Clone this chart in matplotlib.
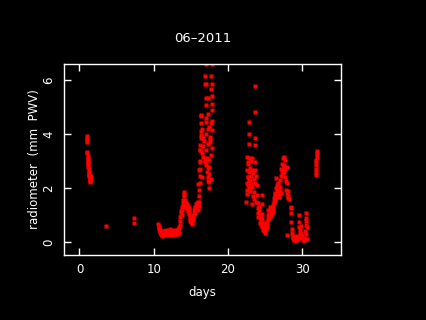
import numpy as np
import matplotlib
matplotlib.use("Agg")
import matplotlib.pyplot as plt

# radiometer PWV readings, June 2011
day1 = [1.00, 1.00, 1.01, 1.02, 1.05, 1.06, 1.08, 1.10, 1.12, 1.14, 1.16, 1.18,
        1.20, 1.22, 1.25, 1.28, 1.30, 1.33, 1.36, 1.40, 1.42, 1.45, 1.48, 1.50]
pwv1 = [3.93, 3.85, 3.78, 3.70, 3.35, 3.30, 3.20, 3.12, 3.05, 2.98, 2.92, 2.85,
        2.80, 2.72, 2.65, 2.58, 2.50, 2.45, 2.40, 2.35, 2.28, 2.22, 2.30, 2.45]

day_iso = [3.55, 7.30, 7.30]
pwv_iso = [0.59, 0.89, 0.70]

day2 = [10.60, 10.65, 10.70, 10.75, 10.80, 10.85, 10.90, 10.95, 11.00, 11.05,
        11.10, 11.15, 11.20, 11.30, 11.35, 11.40, 11.50, 11.55, 11.60, 11.70,
        11.75, 11.80, 11.90, 12.00, 12.05, 12.10, 12.20, 12.25, 12.30, 12.40,
        12.50, 12.55, 12.60, 12.70, 12.75, 12.80, 12.90, 13.00, 13.05, 13.10,
        13.20, 13.25, 13.30, 13.35, 13.40]
pwv2 = [0.68, 0.62, 0.55, 0.50, 0.45, 0.40, 0.38, 0.33, 0.30, 0.28,
        0.35, 0.25, 0.30, 0.40, 0.32, 0.28, 0.42, 0.35, 0.30, 0.45,
        0.38, 0.30, 0.42, 0.33, 0.28, 0.40, 0.48, 0.35, 0.30, 0.42,
        0.28, 0.38, 0.45, 0.32, 0.27, 0.40, 0.35, 0.30, 0.45, 0.38,
        0.32, 0.50, 0.42, 0.35, 0.55]

day3 = [13.50, 13.55, 13.60, 13.65, 13.70, 13.75, 13.80, 13.85, 13.90, 13.95,
        14.00, 14.05, 14.10, 14.12, 14.15, 14.20, 14.25, 14.30, 14.35, 14.40,
        14.45, 14.50, 14.55, 14.60, 14.65, 14.70, 14.75, 14.80, 14.85, 14.90,
        14.95, 15.00, 15.05, 15.10, 15.15, 15.20, 15.25, 15.30, 15.35, 15.40,
        15.45, 15.50, 15.55, 15.60, 15.65, 15.70, 15.80, 15.90, 16.00, 16.05]
pwv3 = [0.65, 0.80, 0.95, 1.05, 1.15, 1.00, 1.30, 1.20, 1.45, 1.35,
        1.55, 1.70, 1.85, 1.78, 1.50, 1.40, 1.55, 1.35, 1.45, 1.25,
        1.40, 1.30, 1.20, 1.35, 1.15, 1.28, 1.05, 1.10, 0.95, 0.90,
        0.80, 0.75, 0.85, 0.70, 0.80, 0.68, 0.90, 1.00, 0.85, 1.05,
        1.20, 1.10, 1.30, 1.25, 1.40, 1.30, 1.45, 1.20, 1.50, 1.35]

day4 = [16.10, 16.12, 16.15, 16.18, 16.20, 16.22, 16.25, 16.28, 16.30, 16.32,
        16.35, 16.38, 16.40, 17.10, 17.80, 16.90, 17.70, 17.10, 16.90, 17.85,
        17.70, 17.00, 17.80, 17.30, 17.80, 17.10, 17.90, 16.35, 17.30, 17.80,
        17.00, 17.50, 16.50, 17.80, 17.10, 16.35, 17.60, 16.80, 17.30, 17.90,
        16.20, 17.10, 17.70, 16.60, 17.50, 16.20, 17.10, 17.30, 16.10, 17.40,
        17.20, 17.30, 17.40, 16.00, 17.50, 16.70, 17.60, 16.45, 17.00, 17.20,
        17.45, 16.55, 17.65, 16.85, 17.25, 17.55, 16.95, 17.35, 17.75, 16.65]
pwv4 = [1.50, 1.70, 1.95, 2.20, 2.45, 2.70, 3.00, 3.40, 3.60, 3.85,
        4.10, 4.40, 4.65, 6.60, 6.60, 6.13, 6.15, 5.86, 5.86, 5.86,
        5.66, 5.33, 5.40, 5.33, 5.13, 5.07, 4.90, 4.71, 4.73, 4.50,
        4.45, 4.26, 4.20, 4.15, 4.00, 3.95, 3.80, 3.76, 3.65, 3.50,
        3.42, 3.42, 3.23, 3.17, 3.04, 2.98, 2.85, 2.73, 2.66, 2.54,
        2.60, 2.42, 2.23, 2.17, 2.01, 3.55, 3.90, 3.30, 4.60, 3.10,
        2.80, 2.40, 2.35, 3.05, 4.20, 3.70, 2.95, 2.25, 4.40, 3.85]

day5 = [22.47, 22.50, 22.52, 22.55, 22.60, 22.60, 22.65, 22.70, 22.70, 22.72,
        22.75, 22.78, 22.80, 22.85, 22.90, 22.95, 22.98, 23.00, 23.05, 23.10,
        23.15, 23.20, 23.20, 23.25, 23.30, 23.35, 23.40, 23.45, 23.50, 23.55,
        23.60, 23.65, 23.70, 23.75, 23.80, 23.85, 23.90, 23.70, 23.70, 22.90,
        22.90, 22.90, 23.70, 23.70]
pwv5 = [1.50, 2.20, 1.95, 1.80, 3.15, 2.68, 2.40, 2.90, 2.43, 2.10,
        2.95, 2.30, 2.05, 3.10, 2.60, 2.25, 1.90, 2.75, 2.15, 3.00,
        2.45, 2.68, 1.40, 2.05, 3.10, 1.70, 2.55, 1.85, 2.35, 1.60,
        2.95, 2.20, 2.68, 1.50, 2.45, 1.75, 2.10, 5.76, 4.83, 4.46,
        4.00, 3.64, 3.84, 3.59]

day6 = [24.00, 24.00, 24.05, 24.10, 24.15, 24.20, 24.25, 24.30, 24.35, 24.40,
        24.45, 24.50, 24.55, 24.60, 24.65, 24.65, 24.65, 24.70, 24.75, 24.80,
        24.85, 24.90, 24.95, 25.00, 25.05, 25.10, 25.15, 25.20, 25.25, 25.30,
        25.35, 25.40, 25.45, 25.50, 25.55, 25.60, 25.65, 25.70, 25.75, 25.80,
        25.85, 25.90, 25.95, 26.00, 26.05, 26.10, 26.15, 26.20, 26.25, 26.30,
        26.35, 26.40, 26.45, 26.50, 26.55, 26.60, 26.65, 26.70, 26.75, 26.80,
        26.85, 26.90, 26.95, 27.00, 27.05, 27.10, 27.15, 27.20, 27.25, 27.30,
        27.35, 27.40, 27.45, 27.50, 27.55, 27.60, 27.65, 27.70, 27.75, 27.80,
        27.85, 27.90, 27.95, 28.00, 28.05, 28.10, 28.15, 28.20]
pwv6 = [1.44, 1.10, 1.25, 0.95, 1.20, 1.32, 0.90, 0.70, 1.05, 0.80,
        1.00, 0.65, 0.85, 0.55, 1.75, 1.40, 1.05, 0.60, 0.45, 0.70,
        0.50, 0.40, 0.45, 0.36, 0.55, 0.48, 0.62, 0.58, 0.70, 0.76,
        0.85, 1.00, 1.20, 0.90, 1.05, 1.32, 0.95, 1.15, 1.25, 1.00,
        1.30, 1.10, 1.20, 1.38, 1.13, 1.25, 1.50, 1.44, 1.65, 1.82,
        1.55, 1.75, 2.00, 2.36, 1.90, 2.10, 1.69, 2.20, 1.95, 2.13,
        1.80, 1.69, 1.90, 2.05, 2.30, 2.70, 2.45, 1.82, 2.60, 2.90,
        2.75, 3.10, 2.55, 3.15, 2.85, 2.60, 3.05, 2.40, 2.70, 2.25,
        1.95, 2.80, 1.80, 2.20, 1.90, 1.63, 1.70, 1.60]

day7 = [28.00, 28.45, 28.50, 28.55, 28.55, 28.60, 28.65, 28.70, 28.75, 28.80,
        28.85, 28.90, 28.95, 29.00, 29.05, 29.10, 29.15, 29.20, 29.30, 29.40,
        29.50, 29.60, 29.60, 29.62, 29.65, 29.70, 29.75, 29.80, 29.85, 29.90,
        29.95, 30.00, 30.05, 30.10, 30.15, 30.20, 30.25, 30.30, 30.40, 30.42,
        30.45, 30.48, 30.50, 30.52, 30.55, 30.58, 30.60]
pwv7 = [0.27, 1.30, 1.25, 1.07, 0.75, 0.50, 0.35, 0.20, 0.25, 0.15,
        0.10, 0.18, 0.08, 0.12, 0.20, 0.10, 0.15, 0.08, 0.25, 0.12,
        0.20, 1.00, 0.75, 0.55, 0.35, 0.20, 0.45, 0.30, 0.15, 0.60,
        0.25, 0.18, 0.12, 0.10, 0.15, 0.12, 0.08, 0.10, 0.15, 0.40,
        0.65, 0.90, 1.10, 0.80, 0.30, 0.55, 0.12]

day8 = [31.80, 31.82, 31.85, 31.88, 31.90, 31.92, 31.95, 31.98, 32.00, 32.05]
pwv8 = [2.49, 2.60, 2.70, 2.85, 2.95, 3.05, 3.15, 3.25, 3.30, 3.36]

days = np.concatenate([day1, day_iso, day2, day3, day4, day5, day6, day7, day8])
pwv = np.concatenate([pwv1, pwv_iso, pwv2, pwv3, pwv4, pwv5, pwv6, pwv7, pwv8])

fig = plt.figure(figsize=(4.26, 3.2), dpi=100, facecolor="black")
ax = fig.add_axes([0.150, 0.203, 0.650, 0.597], facecolor="black")

ax.plot(days, pwv, "s", color="red", ms=2.2, mec="none", antialiased=False)

ax.set_xlim(-2.1, 35.2)
ax.set_ylim(-0.47, 6.59)
ax.set_xticks([0, 10, 20, 30])
ax.set_yticks([0, 2, 4, 6])
ax.tick_params(direction="in", length=5, width=1, colors="white",
               top=True, right=True, labelsize=8.5, pad=6)
for lbl in ax.get_yticklabels():
    lbl.set_rotation(90)
    lbl.set_va("center")
for sp in ax.spines.values():
    sp.set_color("white")
    sp.set_linewidth(1)

ax.set_xlabel("days", color="white", fontsize=8.5, labelpad=7)
ax.set_ylabel("radiometer  (mm  PWV)", color="white", fontsize=8.5, labelpad=1)
ax.set_title("06\u20132011", color="white", fontsize=9.5, pad=16)

fig.savefig("out.png", dpi=100, facecolor="black")
